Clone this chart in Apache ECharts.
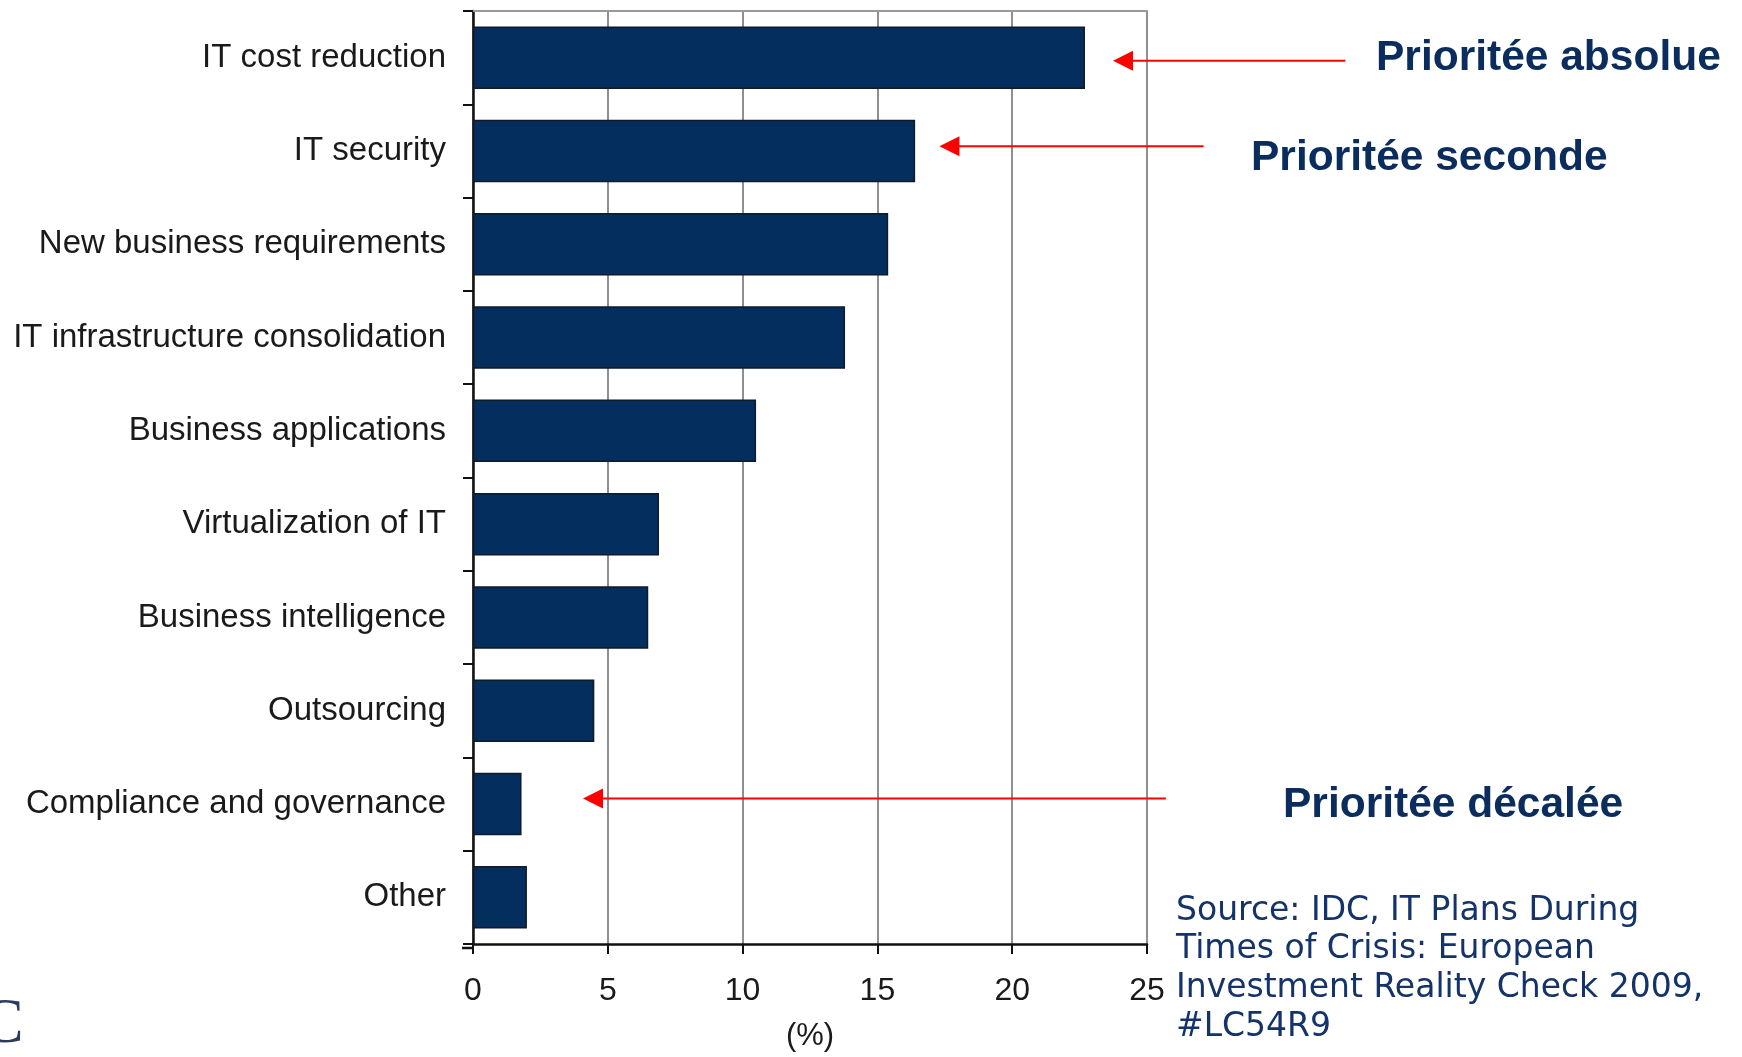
<!DOCTYPE html>
<html>
<head>
<meta charset="utf-8">
<script src="https://cdn.jsdelivr.net/npm/echarts@6/dist/echarts.min.js"></script>
<style>
html,body{margin:0;padding:0;background:#fff;}
#chart{width:1742px;height:1057px;}
</style>
</head>
<body>
<div id="chart"></div>
<script>
const categories = [
  'IT cost reduction',
  'IT security',
  'New business requirements',
  'IT infrastructure consolidation',
  'Business applications',
  'Virtualization of IT',
  'Business intelligence',
  'Outsourcing',
  'Compliance and governance',
  'Other'
];
const values = [22.7, 16.4, 15.4, 13.8, 10.5, 6.9, 6.5, 4.5, 1.8, 2.0];
const xTicks = [0, 5, 10, 15, 20, 25];
const axisName = '(%)';
// annotations: category index, arrow tip value, arrow tail value, label
const annotations = [
  {cat: 0, tip: 23.74, tail: 32.36, text: 'Prioritée absolue', tx: 1376, ty: 58, dy: 3},
  {cat: 1, tip: 17.3, tail: 27.1, text: 'Prioritée seconde', tx: 1251, ty: 158, dy: -4.7},
  {cat: 8, tip: 4.08, tail: 25.7, text: 'Prioritée décalée', tx: 1283, ty: 805, dy: -5.5}
];
const sourceLines = [
  'Source: IDC, IT Plans During',
  'Times of Crisis: European',
  'Investment Reality Check 2009,',
  '#LC54R9'
];

const chart = echarts.init(document.getElementById('chart'));
const labelFont = '"Liberation Sans", Arial, sans-serif';
const GRID = {left: 473, right: 595, top: 11, bottom: 109};
const option = {
  backgroundColor: '#ffffff',
  animation: false,
  grid: Object.assign({containLabel: false}, GRID),
  xAxis: [{
    type: 'value', min: xTicks[0], max: xTicks[xTicks.length - 1], interval: 5,
    position: 'bottom',
    name: axisName, nameLocation: 'middle', nameGap: 77,
    nameTextStyle: {fontFamily: labelFont, fontSize: 31, color: '#1a1a1a'},
    axisLine: {show: true, lineStyle: {color: '#111', width: 2.5}},
    axisTick: {show: true, inside: false, length: 10, lineStyle: {color: '#111', width: 2}},
    axisLabel: {margin: 31, fontFamily: labelFont, fontSize: 32, color: '#1a1a1a'},
    splitLine: {show: true, lineStyle: {color: '#8f8f8f', width: 2}}
  }, {
    type: 'value', min: xTicks[0], max: xTicks[xTicks.length - 1], interval: 5,
    position: 'top',
    axisLine: {show: true, lineStyle: {color: '#999', width: 2}},
    axisTick: {show: false}, axisLabel: {show: false}, splitLine: {show: false}
  }],
  yAxis: {
    type: 'category', data: categories, inverse: true,
    axisLine: {show: true, lineStyle: {color: '#111', width: 2.5}},
    axisTick: {show: true, length: 10, lineStyle: {color: '#111', width: 2}},
    axisLabel: {margin: 27, fontFamily: labelFont, fontSize: 33, color: '#1a1a1a'},
    splitLine: {show: false}
  },
  series: [{
    type: 'bar', data: values, xAxisIndex: 0,
    barCategoryGap: '33%',
    itemStyle: {color: '#042e5e', borderColor: '#101a28', borderWidth: 1.5}
  }]
};
chart.setOption(option);

const graphics = [];
annotations.forEach(a => {
  const tip = chart.convertToPixel({xAxisIndex: 0, yAxisIndex: 0}, [a.tip, a.cat]);
  const tail = chart.convertToPixel({xAxisIndex: 0, yAxisIndex: 0}, [a.tail, a.cat]);
  const y = tip[1] + a.dy;
  graphics.push({
    type: 'line', shape: {x1: tip[0] + 15, y1: y, x2: tail[0], y2: y},
    style: {stroke: '#ff0000', lineWidth: 2}, silent: true
  });
  graphics.push({
    type: 'polygon',
    shape: {points: [[tip[0], y], [tip[0] + 20, y - 10], [tip[0] + 20, y + 10]]},
    style: {fill: '#ff0000'}, silent: true
  });
  graphics.push({
    type: 'text', x: a.tx, y: a.ty,
    style: {text: a.text, fill: '#0a2d5e', font: 'bold 42.5px "Liberation Sans", Arial, sans-serif',
      textVerticalAlign: 'middle', textAlign: 'left'}
  });
});
// small extension of the x axis line to the left of the origin
const gridBottom = 1057 - GRID.bottom;
graphics.push({
  type: 'line', shape: {x1: GRID.left - 11, y1: gridBottom, x2: GRID.left, y2: gridBottom},
  style: {stroke: '#111', lineWidth: 2.5}, silent: true
});
sourceLines.forEach((t, i) => {
  graphics.push({
    type: 'text', x: 1176, y: 911 + i * 38.7,
    style: {text: t, fill: '#14336b', font: '33px "DejaVu Sans", Verdana, sans-serif',
      textVerticalAlign: 'middle', textAlign: 'left'}
  });
});
graphics.push({
  type: 'text', x: -19, y: 1025,
  style: {text: 'C', fill: '#2d3b5c', font: '64px "Liberation Serif", serif',
    textVerticalAlign: 'middle', textAlign: 'left'}
});
chart.setOption({graphic: graphics});
</script>
</body>
</html>
